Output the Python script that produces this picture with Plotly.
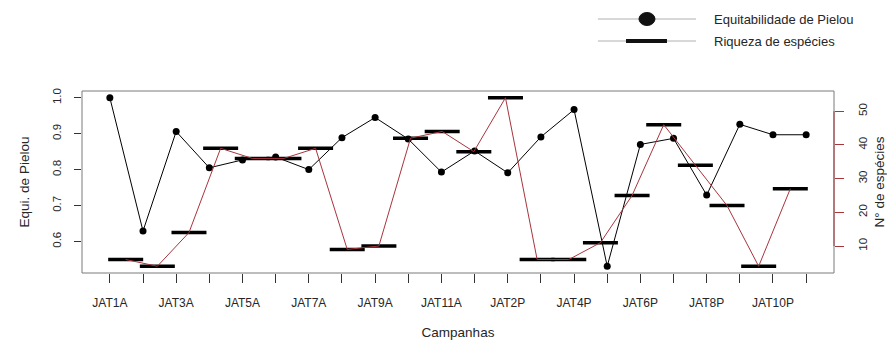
import plotly.graph_objects as go

campanhas = ["JAT1A", "JAT2A", "JAT3A", "JAT4A", "JAT5A", "JAT6A", "JAT7A", "JAT8A", "JAT9A", "JAT10A", "JAT11A",
             "JAT1P", "JAT2P", "JAT3P", "JAT4P", "JAT5P", "JAT6P", "JAT7P", "JAT8P", "JAT9P", "JAT10P", "JAT11P"]
pielou = [1.000, 0.629, 0.906, 0.805, 0.827, 0.835, 0.800, 0.889, 0.945, 0.885, 0.793,
          0.852, 0.791, 0.891, 0.967, 0.531, 0.870, 0.887, 0.729, 0.926, 0.897, 0.897]
riqueza = [6, 4, 14, 39, 36, 36, 39, 9, 10, 42, 44,
           38, 54, 6, 6, 11, 25, 46, 34, 22, 4, 27]
shown_labels = [c if i % 2 == 0 else "" for i, c in enumerate(campanhas)]
pielou_ticks = [0.6, 0.7, 0.8, 0.9, 1.0]
riqueza_ticks = [10, 20, 30, 40, 50]

idx = list(range(len(campanhas)))
FONT = "Liberation Sans, Arial, sans-serif"
TXT = "#262626"
RED = "#a8343c"

fig = go.Figure()
fig.add_trace(go.Scatter(x=idx, y=pielou, mode="lines+markers", xaxis="x", yaxis="y",
                         line=dict(color="black", width=1),
                         marker=dict(color="black", size=7), showlegend=False))
fig.add_trace(go.Scatter(x=idx, y=riqueza, mode="markers", xaxis="x2", yaxis="y2",
                         marker=dict(symbol="line-ew", size=25, line=dict(color="black", width=3.5)),
                         showlegend=False))
fig.add_trace(go.Scatter(x=idx, y=riqueza, mode="lines", xaxis="x2", yaxis="y2",
                         line=dict(color=RED, width=1), showlegend=False))

n = len(campanhas)
fig.update_layout(
    width=887, height=346,
    margin=dict(l=82, r=53, t=91, b=73),
    paper_bgcolor="white", plot_bgcolor="white",
    font=dict(family=FONT, color=TXT, size=11),
    xaxis=dict(range=[-0.04 * (n - 1), (n - 1) * 1.04], tickvals=idx, ticktext=shown_labels,
               ticks="outside", ticklen=9, tickcolor="#333", showgrid=False, zeroline=False,
               showline=False, tickfont=dict(size=12), ticklabelstandoff=10, automargin=False,
               title=dict(text="Campanhas", font=dict(size=13.5), standoff=18)),
    xaxis2=dict(range=[-1.38, 22.38], overlaying="x", visible=False),
    yaxis=dict(range=[0.5122, 1.0188], tickvals=pielou_ticks,
               ticktext=["%.1f" % v for v in pielou_ticks], tickangle=-90,
               ticks="outside", ticklen=7, tickcolor="#333", showgrid=False, zeroline=False,
               showline=False, tickfont=dict(size=11.5), ticklabelstandoff=8, automargin=False,
               title=dict(text="Equi. de Pielou", font=dict(size=13.5), standoff=18)),
    yaxis2=dict(range=[2, 56], overlaying="y", side="right", tickvals=riqueza_ticks,
                tickangle=-90, ticks="outside", ticklen=9, tickcolor=RED, showgrid=False,
                zeroline=False, showline=False, tickfont=dict(size=11.5), ticklabelstandoff=9,
                automargin=False,
                title=dict(text="N° de espécies", font=dict(size=13.5), standoff=7)),
    shapes=[
        dict(type="rect", xref="paper", yref="paper", x0=0, x1=1, y0=0, y1=1,
             line=dict(color="#7a7a7a", width=1)),
        dict(type="line", xref="paper", yref="y2", x0=1.0, x1=1.0, y0=10, y1=50,
             line=dict(color=RED, width=1)),
        # legend
        dict(type="line", xref="paper", yref="paper", x0=0.686, x1=0.8165, y0=1.3956, y1=1.3956,
             line=dict(color="#b0b0b0", width=1)),
        dict(type="line", xref="paper", yref="paper", x0=0.686, x1=0.8165, y0=1.2747, y1=1.2747,
             line=dict(color="#b0b0b0", width=1)),
        dict(type="circle", xref="paper", yref="paper", xsizemode="pixel", ysizemode="pixel",
             xanchor=0.7513, yanchor=1.3956, x0=-8, x1=8, y0=-6.5, y1=6.5,
             fillcolor="#111", line=dict(color="#111", width=1)),
        dict(type="rect", xref="paper", yref="paper", ysizemode="pixel", yanchor=1.2747,
             x0=0.7234, x1=0.7779, y0=-2, y1=2, fillcolor="#111", line=dict(width=0)),
    ],
    annotations=[
        dict(text="Equitabilidade de Pielou", xref="paper", yref="paper", x=0.8378, y=1.3956,
             xanchor="left", yanchor="middle", showarrow=False, font=dict(size=13)),
        dict(text="Riqueza de espécies", xref="paper", yref="paper", x=0.8378, y=1.2747,
             xanchor="left", yanchor="middle", showarrow=False, font=dict(size=13)),
    ],
)

fig.write_html("out.html")
